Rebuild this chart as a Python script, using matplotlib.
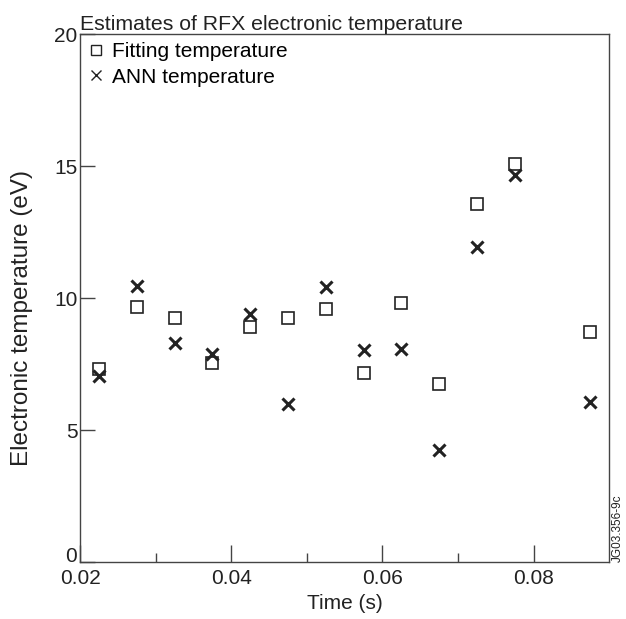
import matplotlib
matplotlib.use("Agg")
import matplotlib.pyplot as plt
from matplotlib.lines import Line2D

# ================= DATA =================

time_s = [0.0225, 0.0275, 0.0325, 0.0375, 0.0425, 0.0475, 0.0525,
          0.0575, 0.0625, 0.0675, 0.0725, 0.0775, 0.0875]
fit_temp = [7.3, 9.65, 9.25, 7.55, 8.9, 9.25, 9.6,
            7.15, 9.8, 6.73, 13.57, 15.08, 8.73]
ann_temp = [7.04, 10.45, 8.3, 7.88, 9.4, 5.99, 10.43,
            8.04, 8.08, 4.26, 11.94, 14.66, 6.05]

x_ticks = [0.02, 0.04, 0.06, 0.08]
x_minor = [0.03, 0.05, 0.07]
y_ticks = [0, 5, 10, 15, 20]

INK = "#222222"

plt.rcParams["font.family"] = ["Liberation Sans", "DejaVu Sans"]

fig = plt.figure(figsize=(6.26, 6.19), dpi=100)
ax = fig.add_axes([0.128, 0.092, 0.845, 0.853])

ax.plot(time_s, fit_temp, linestyle="none", marker="s", ms=8.5,
        mfc="none", mec=INK, mew=1.2)
ax.plot(time_s, ann_temp, linestyle="none", marker="x", ms=8.5,
        mec=INK, mew=2.2)

ax.set_xlim(0.02, 0.09)
ax.set_ylim(0, 20)
ax.set_xticks(x_ticks)
ax.set_xticklabels(["0.02", "0.04", "0.06", "0.08"])
ax.set_xticks(x_minor, minor=True)
ax.set_yticks(y_ticks)
ax.set_yticklabels([str(v) for v in y_ticks])
# the "0" label sits on the axis line rather than centred on it
ax.get_yticklabels()[0].set_verticalalignment("baseline")

ax.tick_params(axis="both", which="major", direction="in",
               width=1, color="#444444", labelsize=15, labelcolor=INK)
ax.tick_params(axis="x", which="major", length=12, pad=5)
ax.tick_params(axis="y", which="major", length=11, pad=2)
ax.tick_params(axis="x", which="minor", direction="in", length=6.5,
               width=1, color="#444444")

for sp in ax.spines.values():
    sp.set_color("#444444")
    sp.set_linewidth(1)

ax.set_xlabel("Time (s)", fontsize=15, color=INK, labelpad=4)
ax.set_ylabel("Electronic temperature (eV)", fontsize=17.5, color=INK)
ax.yaxis.set_label_coords(-0.09, 0.462)
ax.set_title("Estimates of RFX electronic temperature", loc="left",
             fontsize=15.3, color=INK, pad=1.5)

handles = [
    Line2D([], [], linestyle="none", marker="s", ms=6.5, mfc="none", mec=INK, mew=1),
    Line2D([], [], linestyle="none", marker="x", ms=6.5, mec=INK, mew=1),
]
ax.legend(handles, ["Fitting temperature", "ANN temperature"], loc="upper left",
          frameon=False, fontsize=15, handlelength=0.7, handletextpad=0.45,
          labelspacing=0.3, borderaxespad=0.3, borderpad=0.1)

fig.text(0.997, 0.092, "JG03.356-9c", rotation=90, ha="right", va="bottom",
         fontsize=8.5, color=INK)

fig.savefig("out.png", dpi=100)
plt.close(fig)
